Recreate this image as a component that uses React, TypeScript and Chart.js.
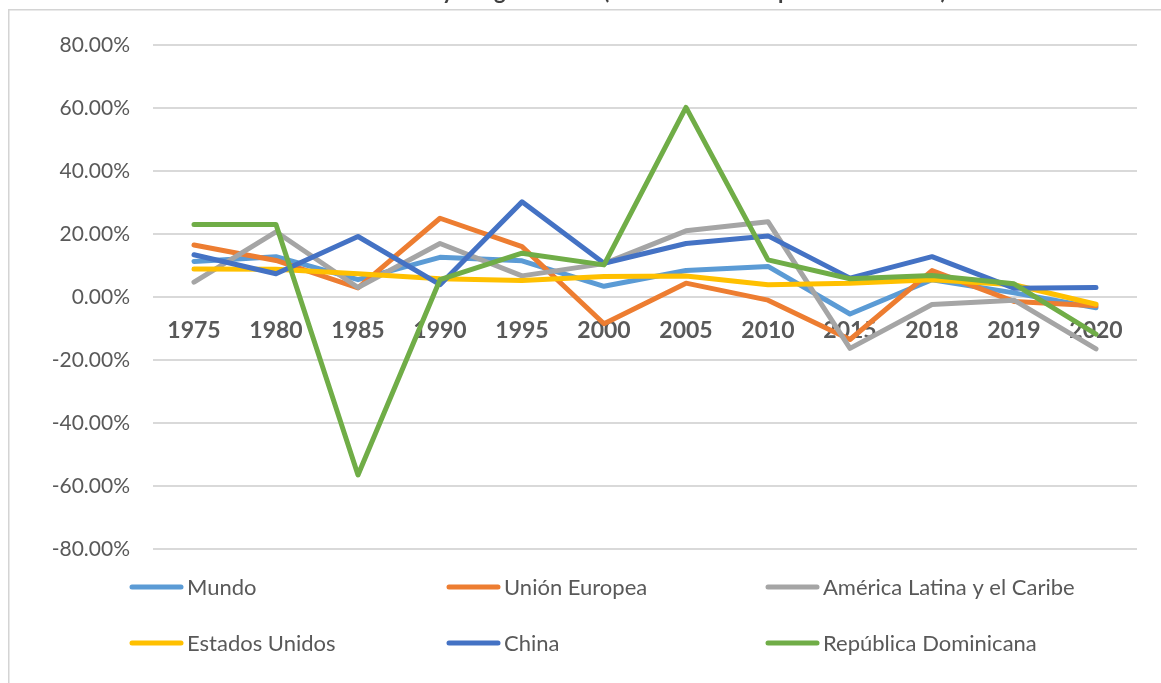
import React, { useEffect, useRef } from "react";
import { Chart, registerables } from "chart.js";

Chart.register(...registerables);

const titleText = "Crecimiento de la renta y del gasto total (tasa de variación porcentual anual)";
const years = ["1975", "1980", "1985", "1990", "1995", "2000", "2005", "2010", "2015", "2018", "2019", "2020"];
const seriesNames = ["Mundo", "Unión Europea", "América Latina y el Caribe", "Estados Unidos", "China", "República Dominicana"];
const seriesColors = ["#5B9BD5", "#ED7D31", "#A5A5A5", "#FFC000", "#4472C4", "#70AD47"];

const mundo = [11.3, 12.8, 5.5, 12.6, 11.5, 3.4, 8.4, 9.7, -5.4, 5.5, 1.3, -3.4];
const unionEuropea = [16.5, 11.6, 2.9, 25.0, 16.0, -8.5, 4.4, -1.0, -13.5, 8.4, -1.4, -2.8];
const americaLatina = [4.7, 20.7, 3.0, 17.0, 6.7, 10.6, 21.0, 23.9, -16.3, -2.4, -1.0, -16.5];
const estadosUnidos = [8.9, 8.8, 7.4, 5.8, 5.2, 6.5, 6.7, 3.9, 4.4, 5.5, 3.9, -2.3];
const china = [13.4, 7.4, 19.2, 3.9, 30.2, 10.7, 17.0, 19.4, 6.0, 12.8, 2.8, 3.0];
const republicaDominicana = [23.0, 23.0, -56.5, 5.5, 13.9, 10.2, 60.2, 11.8, 5.8, 6.8, 4.2, -11.8];

const yTicksMin = -80;
const yTicksMax = 80;
const yTicksStep = 20;

const allSeries = [mundo, unionEuropea, americaLatina, estadosUnidos, china, republicaDominicana];

const framePlugin = {
  id: "frameAndTitle",
  beforeDraw(chart: any) {
    const ctx = chart.ctx;
    ctx.save();
    ctx.fillStyle = "#ffffff";
    ctx.fillRect(0, 0, chart.width, chart.height);
    ctx.strokeStyle = "#d4d4d4";
    ctx.lineWidth = 1.5;
    ctx.beginPath();
    ctx.moveTo(8.75, chart.height + 5);
    ctx.lineTo(8.75, 9.75);
    ctx.lineTo(chart.width + 5, 9.75);
    ctx.stroke();
    ctx.font = "bold 22px Lato";
    ctx.fillStyle = "#404040";
    ctx.textBaseline = "alphabetic";
    ctx.textAlign = "left";
    const prefix = "Crecimiento de la renta ";
    const x0 = 442 - ctx.measureText(prefix).width;
    ctx.fillText(titleText, x0, -1);
    ctx.restore();
  },
};

const legendPlugin = {
  id: "gridLegend",
  afterDraw(chart: any) {
    const ctx = chart.ctx;
    const colX = [130, 447, 766];
    const rowY = [587, 643];
    ctx.save();
    ctx.font = "22px Lato";
    ctx.textBaseline = "middle";
    ctx.textAlign = "left";
    chart.data.datasets.forEach((ds: any, i: number) => {
      const x = colX[i % 3];
      const y = rowY[Math.floor(i / 3)];
      ctx.strokeStyle = ds.borderColor;
      ctx.lineWidth = 5;
      ctx.lineCap = "round";
      ctx.beginPath();
      ctx.moveTo(x + 2, y);
      ctx.lineTo(x + 51, y);
      ctx.stroke();
      ctx.fillStyle = "#595959";
      ctx.fillText(ds.label, x + 57, y + 1);
    });
    ctx.restore();
  },
};

export default function App() {
  const canvasRef = useRef<HTMLCanvasElement | null>(null);

  useEffect(() => {
    if (!canvasRef.current) return;
    const chart = new Chart(canvasRef.current, {
      type: "line",
      data: {
        labels: years,
        datasets: seriesNames.map((name, i) => ({
          label: name,
          data: allSeries[i],
          borderColor: seriesColors[i],
          backgroundColor: seriesColors[i],
          borderWidth: 5,
          pointRadius: 0,
          pointHoverRadius: 0,
          tension: 0,
          borderCapStyle: "round" as const,
          borderJoinStyle: "round" as const,
          order: seriesNames.length - i,
          fill: false,
        })),
      },
      options: {
        responsive: false,
        animation: false,
        layout: { padding: { top: 45, right: 24, bottom: 134, left: 0 } },
        plugins: {
          legend: { display: false },
          title: { display: false },
          tooltip: { enabled: false },
        },
        scales: {
          x: {
            type: "category",
            position: { y: 0 } as any,
            offset: true,
            grid: { display: false, drawTicks: false },
            border: { display: false },
            ticks: {
              color: "#595959",
              font: { family: "Lato", size: 23, weight: "bold" },
              padding: 20,
              maxRotation: 0,
              autoSkip: false,
            },
            afterFit: (s: any) => {
              s.height = 0;
            },
          },
          y: {
            min: yTicksMin,
            max: yTicksMax,
            grid: { color: "#d9d9d9", lineWidth: 2, drawTicks: false },
            border: { display: false },
            ticks: {
              stepSize: yTicksStep,
              padding: 23,
              color: "#595959",
              font: { family: "Lato", size: 21 },
              callback: (v: any) => `${Number(v).toFixed(2)}%`,
            },
            afterFit: (s: any) => {
              s.width = 153;
            },
          },
        },
      },
      plugins: [framePlugin, legendPlugin],
    });
    return () => chart.destroy();
  }, []);

  return (
    <div style={{ position: "absolute", left: 0, top: 0, width: 1161, height: 683, overflow: "hidden", background: "#fff" }}>
      <canvas ref={canvasRef} width={1161} height={683} style={{ display: "block" }} />
    </div>
  );
}
